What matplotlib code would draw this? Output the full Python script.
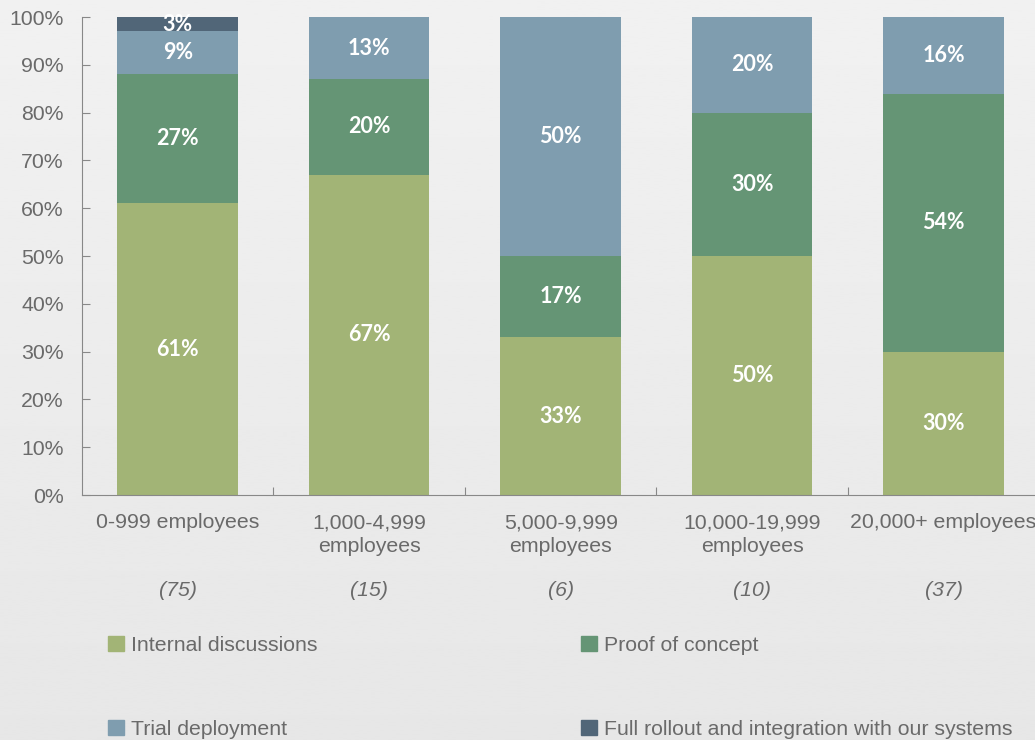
import matplotlib
matplotlib.use("Agg")
from matplotlib import pyplot as plt
from matplotlib.patches import Patch
import numpy as np

# company size groups and respondent counts
groups = ["0-999 employees", "1,000-4,999\nemployees", "5,000-9,999\nemployees",
          "10,000-19,999\nemployees", "20,000+ employees"]
counts = ["(75)", "(15)", "(6)", "(10)", "(37)"]

# share of respondents at each stage (%)
stages = ["Internal discussions", "Proof of concept", "Trial deployment",
          "Full rollout and integration with our systems"]
internal = [61, 67, 33, 50, 30]
proof = [27, 20, 17, 30, 54]
trial = [9, 13, 50, 20, 16]
rollout = [3, 0, 0, 0, 0]

colores = ["#a2b476", "#659575", "#7f9daf", "#516678"]
gris = "#6a6a6a"
fs = 15.3

plt.rcParams["font.family"] = ["Liberation Sans", "DejaVu Sans"]

fig = plt.figure(figsize=(10.35, 7.40), dpi=100)

# soft grey backdrop, a bit lighter at the top
fondo = fig.add_axes([0, 0, 1, 1], zorder=-10)
grad = np.linspace(0.945, 0.905, 256).reshape(-1, 1)
fondo.imshow(grad, cmap="gray", vmin=0, vmax=1, aspect="auto", extent=[0, 1, 0, 1])
fondo.axis("off")

ax = fig.add_axes([0.0792, 0.331, 0.925, 0.646])
ax.patch.set_alpha(0)

x = np.arange(len(groups))
series = [internal, proof, trial, rollout]
base = np.zeros(len(groups))
for serie, col in zip(series, colores):
    vals = np.array(serie, dtype=float)
    ax.bar(x, vals, 0.63, bottom=base, color=col, edgecolor="none")
    for xi, b, v in zip(x, base, vals):
        if v > 0:
            ax.text(xi, b + v / 2, "%d%%" % v, ha="center", va="center",
                    color="white", fontsize=15.5, fontweight="bold", family="Lato")
    base += vals

ax.set_xlim(-0.5, 4.5)
ax.set_ylim(0, 100)
ax.set_yticks(range(0, 101, 10))
ax.set_yticklabels(["%d%%" % v for v in range(0, 101, 10)])
ax.set_xticks(x + 0.5)
ax.set_xticklabels([])
ax.set_xticks(x, minor=True)
ax.set_xticklabels(groups, minor=True, linespacing=1.3)
ax.tick_params(axis="x", which="major", direction="in", length=6, color="#888888")
ax.tick_params(axis="x", which="minor", length=0, pad=13, labelsize=fs, labelcolor=gris)
ax.tick_params(axis="y", direction="in", length=6, color="#888888", pad=13,
               labelsize=fs, labelcolor=gris)
for lado in ["top", "right"]:
    ax.spines[lado].set_visible(False)
for lado in ["left", "bottom"]:
    ax.spines[lado].set_color("#888888")

for xi, n in zip(x, counts):
    ax.text(xi, -20, n, ha="center", va="center", color=gris, fontsize=fs,
            style="italic")

handles = [Patch(color=colores[i]) for i in [0, 2, 1, 3]]
labels = [stages[i] for i in [0, 2, 1, 3]]
fig.legend(handles, labels, ncol=2, loc="upper left", bbox_to_anchor=(0.1043, 0.141),
           frameon=False, fontsize=fs, labelcolor=gris, handlelength=0.75,
           handleheight=0.75, handletextpad=0.33, labelspacing=3.05, columnspacing=12.4,
           borderaxespad=0, borderpad=0)

fig.savefig("out.png", dpi=100)
